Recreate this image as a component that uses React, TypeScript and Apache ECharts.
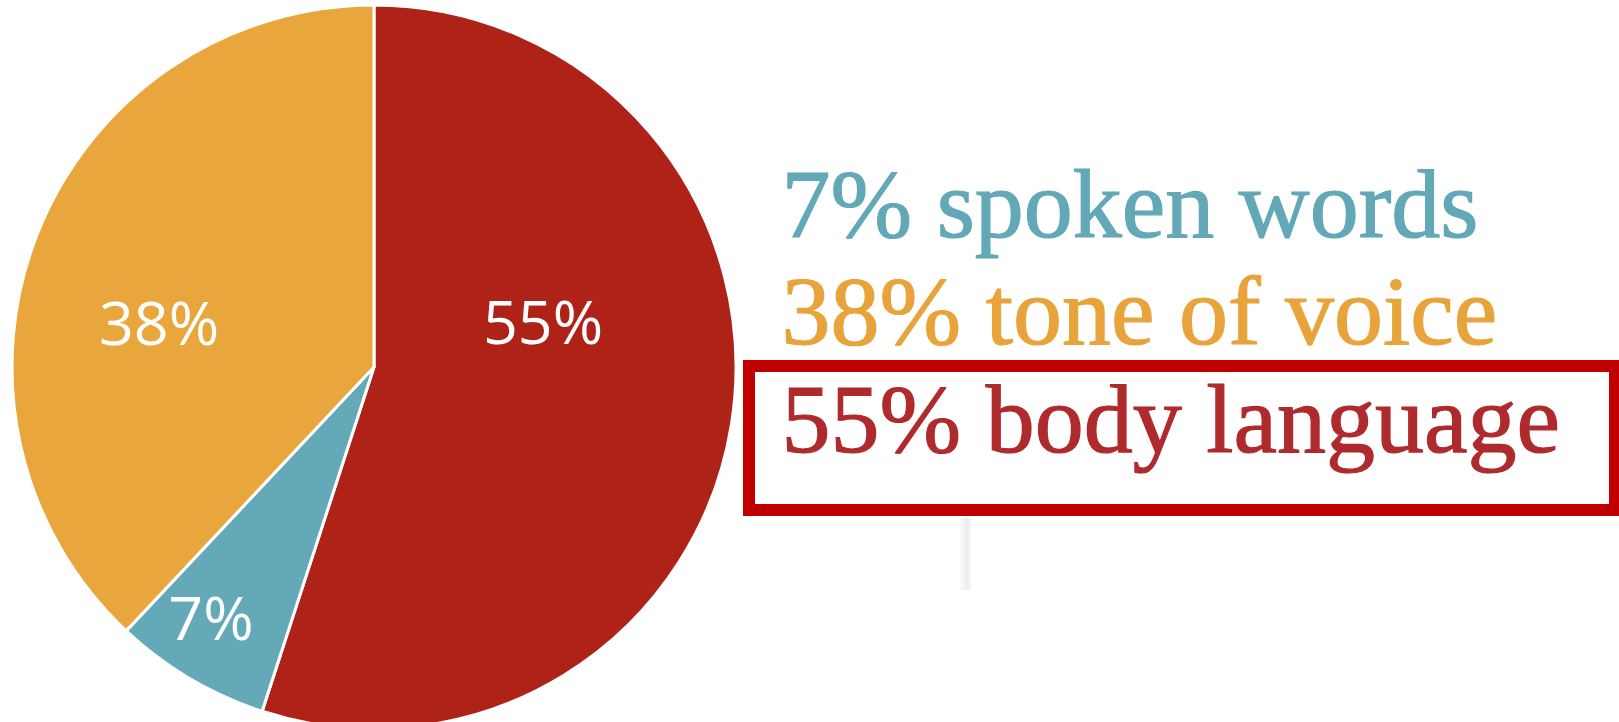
import React, { useEffect, useRef } from "react";
import * as echarts from "echarts";

const categories = ["body language", "spoken words", "tone of voice"];
const values = [55, 7, 38];
const sliceColors = ["#AF2218", "#63A9B7", "#E9A63C"];
const legendOrder = [1, 2, 0];
const legendColors = ["#62A8B7", "#E8A43A", "#AE2A2C"];

const W = 1619;
const H = 722;
const CX = 374;
const CY = 367;
const R = 362;
const labelPos = [
  [543, 320],
  [211, 616],
  [159, 321],
];

export default function App() {
  const ref = useRef<HTMLDivElement>(null);
  useEffect(() => {
    if (!ref.current) return;
    const chart = echarts.init(ref.current, undefined, { renderer: "svg" });
    const legendTexts = legendOrder.map((idx, i) => ({
      type: "text",
      left: 781,
      top: 154 + i * 107.5,
      style: {
        text: `${values[idx]}% ${categories[idx]}`,
        fill: legendColors[i],
        stroke: legendColors[i],
        lineWidth: 1.2,
        font: '98px "Liberation Serif"',
      },
    }));
    chart.setOption({
      animation: false,
      backgroundColor: "#ffffff",
      series: [
        {
          type: "pie",
          center: [CX, CY],
          radius: R,
          startAngle: 90,
          clockwise: true,
          silent: true,
          itemStyle: { borderColor: "#ffffff", borderWidth: 3 },
          label: {
            show: true,
            position: "inside",
            formatter: "{d}%",
            color: "#ffffff",
            fontFamily: "Open Sans",
            fontStyle: "normal",
            fontSize: 61,
          },
          labelLine: { show: false },
          labelLayout: (p: any) => ({
            x: labelPos[p.dataIndex][0],
            y: labelPos[p.dataIndex][1],
            align: "center",
            verticalAlign: "middle",
          }),
          data: categories.map((c, i) => ({
            name: c,
            value: values[i],
            itemStyle: { color: sliceColors[i] },
          })),
        },
      ],
      graphic: [
        ...legendTexts,
        {
          type: "rect",
          shape: { x: 749, y: 366, width: 866, height: 144 },
          style: { fill: "none", stroke: "#C00000", lineWidth: 12 },
        },
        {
          type: "rect",
          shape: { x: 958, y: 518, width: 14, height: 72 },
          style: {
            fill: {
              type: "linear",
              x: 0, y: 0, x2: 1, y2: 0,
              colorStops: [
                { offset: 0, color: "rgba(200,200,200,0)" },
                { offset: 0.7, color: "rgba(200,200,200,0.35)" },
                { offset: 1, color: "rgba(200,200,200,0)" },
              ],
            },
          },
        },
      ],
    });
    return () => chart.dispose();
  }, []);
  return (
    <div
      ref={ref}
      style={{ position: "fixed", left: 0, top: 0, width: W, height: H }}
    />
  );
}
